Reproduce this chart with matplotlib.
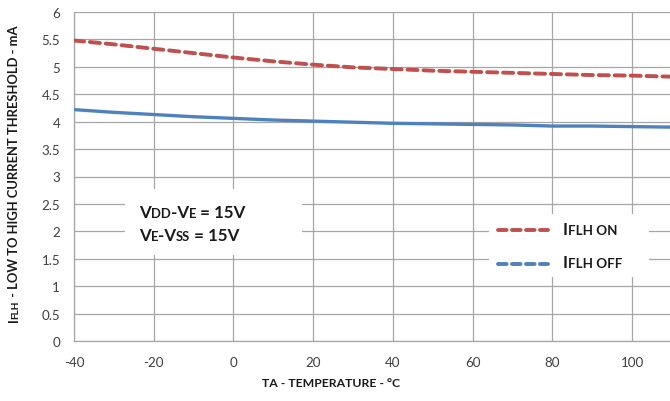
import matplotlib
matplotlib.use("Agg")
import matplotlib.pyplot as plt
from matplotlib.transforms import IdentityTransform
from matplotlib.patches import Rectangle
from matplotlib.lines import Line2D

plt.rcParams['font.family'] = ['Lato', 'DejaVu Sans']

# ---- data ----
temp = [-40, -30, -20, -10, 0, 10, 20, 30, 40, 50, 60, 70, 80, 90, 100, 110]
iflh_on = [5.48, 5.41, 5.33, 5.25, 5.17, 5.10, 5.04, 4.99, 4.96, 4.93, 4.91, 4.89, 4.87, 4.85, 4.84, 4.82]
iflh_off = [4.22, 4.17, 4.13, 4.09, 4.06, 4.03, 4.01, 3.99, 3.97, 3.96, 3.95, 3.94, 3.92, 3.92, 3.91, 3.90]
x_ticks = [-40, -20, 0, 20, 40, 60, 80, 100]
y_ticks = [0, 0.5, 1, 1.5, 2, 2.5, 3, 3.5, 4, 4.5, 5, 5.5, 6]
y_tick_labels = ['0', '0.5', '1', '1.5', '2', '2.5', '3', '3.5', '4', '4.5', '5', '5.5', '6']

RED = '#C0504D'
BLUE = '#4F81BD'
GRID = '#A6A6A6'
TXT = '#1A1A1A'

W, H = 670, 402
fig = plt.figure(figsize=(W / 100, H / 100), dpi=100)
ax = fig.add_axes([74 / W, 1 - 342 / H, (670 - 74) / W, (342 - 13) / H])

ax.plot(temp, iflh_on, color=RED, lw=2.8, dashes=(2.6, 1.5), dash_capstyle='round', zorder=3)
ax.plot(temp, iflh_off, color=BLUE, lw=2.4, solid_capstyle='butt', zorder=3)

ax.set_xlim(-40, 109.5)
ax.set_ylim(0, 6)
ax.set_xticks(x_ticks)
ax.set_xticklabels([str(v) for v in x_ticks])
ax.set_yticks(y_ticks)
ax.set_yticklabels(y_tick_labels)
ax.tick_params(length=0, labelsize=9.6, colors='#404040', labelcolor='#404040')
ax.tick_params(axis='y', pad=10)
ax.tick_params(axis='x', pad=11)
ax.grid(True, color=GRID, lw=0.9)
ax.set_axisbelow(True)
for s in ['top', 'right']:
    ax.spines[s].set_visible(False)
for s in ['left', 'bottom']:
    ax.spines[s].set_color(GRID)
    ax.spines[s].set_linewidth(0.9)

# white boxes behind annotation and legend (pixel coords, top-left origin)
def pbox(x0, y0, x1, y1):
    r = Rectangle((x0, H - y1), x1 - x0, y1 - y0, transform=IdentityTransform(),
                  facecolor='white', edgecolor='none', zorder=2)
    fig.add_artist(r)

fig.canvas.draw()
renderer = fig.canvas.get_renderer()


def rich(pieces, x, y, rotation=0, align='left'):
    """pieces: list of (text, size); x, y in pixel coords from top-left."""
    texts = []
    pos = 0.0
    for s, size in pieces:
        t = fig.text(0, 0, s, fontsize=size, fontweight='bold', color=TXT,
                     rotation=rotation, rotation_mode='anchor', ha='left', va='baseline',
                     transform=IdentityTransform(), zorder=5)
        bb = t.get_window_extent(renderer)
        w = bb.width if rotation == 0 else bb.height
        texts.append((t, pos))
        pos += w
    start = -pos / 2 if align == 'center' else 0
    for t, p in texts:
        if rotation == 0:
            t.set_position((x + start + p, H - y))
        else:
            t.set_position((x, H - y + start + p))


# annotation box
pbox(125, 190, 302, 256)
rich([('V', 12.2), ('DD', 9.4), ('-V', 12.2), ('E', 9.4), (' = 15V', 12.2)], 139, 218)
rich([('V', 12.2), ('E', 9.4), ('-V', 12.2), ('SS', 9.4), (' = 15V', 12.2)], 139, 241)

# legend box
pbox(489, 215, 649, 278)
for yy, c in [(231, RED), (265, BLUE)]:
    ln = Line2D([498, 548], [H - yy, H - yy], transform=IdentityTransform(), color=c,
                lw=2.8, dashes=(2.2, 1.4), dash_capstyle='round', zorder=5)
    fig.add_artist(ln)
rich([('I', 12.2), ('FLH ON', 9.6)], 563, 235)
rich([('I', 12.2), ('FLH OFF', 9.6)], 563, 268)

# axis labels
rich([('TA - TEMPERATURE - \u00b0C', 8.8)], 331, 387, align='center')
rich([('I', 9.4), ('FLH', 7.2), (' - LOW TO HIGH CURRENT THRESHOLD - mA', 9.4)], 18, 174,
     rotation=90, align='center')

fig.savefig('out.png', dpi=100)
